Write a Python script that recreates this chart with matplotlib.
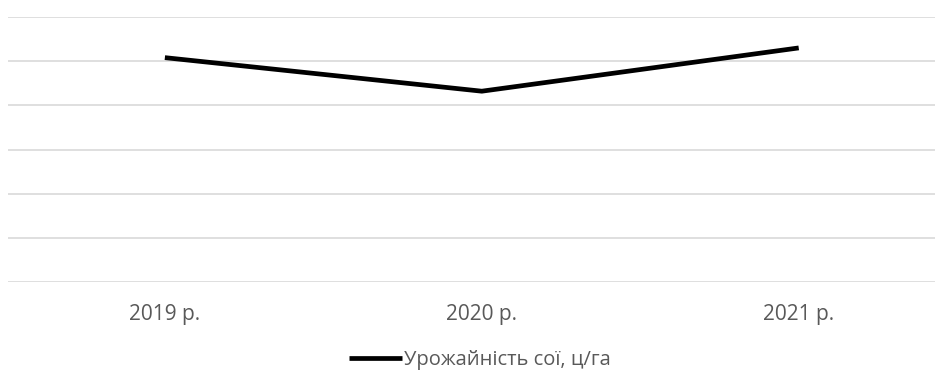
import matplotlib.pyplot as plt

# Soybean yield by year
years = ["2019 р.", "2020 р.", "2021 р."]
yield_cwt = [25.4, 21.6, 26.5]
series_label = "Урожайність сої, ц/га"

plt.rcParams["font.family"] = ["Open Sans", "DejaVu Sans"]

fig = plt.figure(figsize=(9.43, 3.74), dpi=100)
ax = fig.add_axes([8 / 943, 1 - 282 / 374, 927 / 943, 265 / 374])

x = list(range(len(years)))
ax.plot(x, yield_cwt, color="black", linewidth=3.4, solid_capstyle="butt",
        label=series_label, clip_on=False)

ax.set_xlim(-0.495, 2.43)
ax.set_ylim(0, 30)
ax.set_yticks(range(0, 31, 5))
ax.yaxis.grid(True, color="#d9d9d9", linewidth=1.2)
ax.set_axisbelow(True)
ax.tick_params(axis="y", left=False, labelleft=False)
ax.set_xticks(x)
ax.set_xticklabels(years)
ax.tick_params(axis="x", bottom=False, pad=12, labelsize=15, labelcolor="#595959")
for s in ax.spines.values():
    s.set_visible(False)

leg = fig.legend(loc="center", bbox_to_anchor=(480 / 943, 1 - 360 / 374),
                 frameon=False, handlelength=2.6, handletextpad=0.1,
                 fontsize=14.5, labelcolor="#595959", borderpad=0.1)

fig.savefig("out.png", dpi=100)
